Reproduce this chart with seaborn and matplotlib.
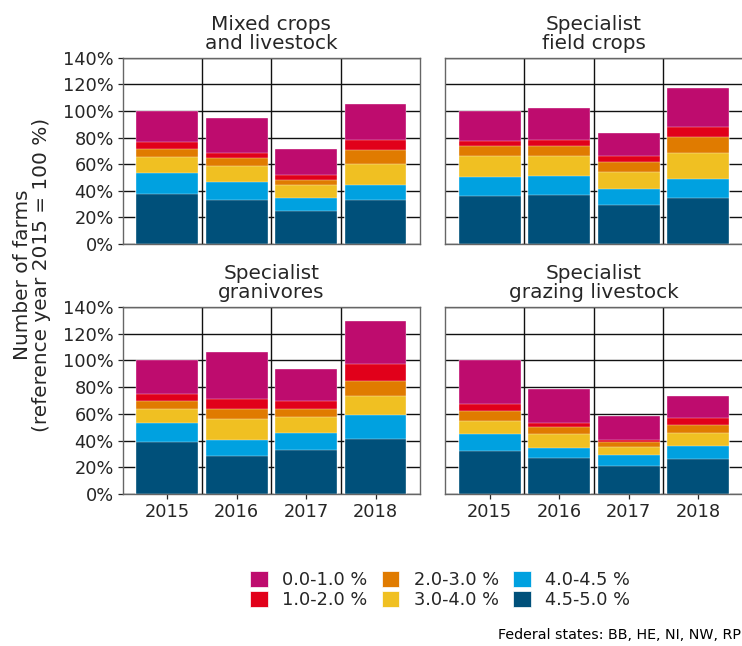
import matplotlib
matplotlib.use("Agg")
import matplotlib.pyplot as plt
import matplotlib.patches as mpatches
import numpy as np
import pandas as pd
import seaborn as sns

# Years on the x axis
years = ["2015", "2016", "2017", "2018"]

# Share classes (bottom of the stack first) and their colours
classes = ["4.5-5.0 %", "4.0-4.5 %", "3.0-4.0 %", "2.0-3.0 %", "1.0-2.0 %", "0.0-1.0 %"]
class_colors = ["#00507A", "#00A1E0", "#F0C022", "#E07B00", "#E1001A", "#BE0C6E"]

# Number of farms per class, % of reference year 2015 (rows follow `classes`)
mixed_crops = [
    [37.9, 32.9, 24.7, 32.9],
    [15.4, 13.4, 9.7, 11.4],
    [12.0, 12.0, 9.7, 16.0],
    [6.4, 6.2, 4.2, 10.7],
    [5.0, 4.2, 3.8, 7.0],
    [23.3, 25.9, 19.4, 27.4],
]
field_crops = [
    [36.1, 36.6, 29.4, 34.4],
    [14.5, 14.7, 11.9, 14.2],
    [15.2, 14.7, 12.7, 20.1],
    [7.7, 7.7, 7.8, 12.0],
    [3.7, 4.8, 4.2, 7.5],
    [22.8, 23.9, 17.4, 29.1],
]
granivores = [
    [38.6, 28.1, 32.9, 41.3],
    [14.2, 12.7, 12.7, 17.5],
    [11.2, 15.2, 11.9, 14.2],
    [5.5, 7.3, 6.5, 11.9],
    [5.0, 7.7, 5.5, 12.2],
    [25.5, 35.6, 23.9, 32.2],
]
grazing = [
    [32.1, 26.6, 20.9, 25.9],
    [13.0, 8.0, 8.0, 10.0],
    [9.7, 10.5, 6.2, 9.9],
    [7.0, 5.0, 3.5, 6.0],
    [5.7, 3.2, 2.2, 5.2],
    [32.5, 25.4, 17.7, 16.7],
]

panel_titles = ["Mixed crops\nand livestock", "Specialist\nfield crops",
                "Specialist\ngranivores", "Specialist\ngrazing livestock"]
panel_data = [mixed_crops, field_crops, granivores, grazing]

y_ticks = [0, 20, 40, 60, 80, 100, 120, 140]
y_tick_labels = ["0%", "20%", "40%", "60%", "80%", "100%", "120%", "140%"]

TEXT = "#262626"
GRID = "#111111"
BORDER = "#666666"

sns.set_style("white")
plt.rcParams["font.family"] = ["DejaVu Sans"]

W, H = 742, 646
fig = plt.figure(figsize=(W / 100, H / 100), dpi=100)

# panel boxes in pixel coordinates: (left, top, right, bottom)
boxes = [
    (122.7, 57.7, 420.0, 244.0),
    (445.3, 57.7, 742.6, 244.0),
    (122.7, 307.0, 420.0, 494.0),
    (445.3, 307.0, 742.6, 494.0),
]

for idx, (title, data, box) in enumerate(zip(panel_titles, panel_data, boxes)):
    l, t, r, b = box
    ax = fig.add_axes([l / W, 1 - b / H, (r - l) / W, (b - t) / H])
    ax.set_axisbelow(True)

    # long-form table with cumulative heights per class
    rows = []
    cum = np.zeros(len(years))
    for cls, vals in zip(classes, data):
        cum = cum + np.array(vals)
        for y, c in zip(years, cum):
            rows.append({"year": y, "class": cls, "cum": c})
    df = pd.DataFrame(rows)

    # draw from the top of the stack down so lower segments overlay
    for cls, col in reversed(list(zip(classes, class_colors))):
        sub = df[df["class"] == cls]
        sns.barplot(data=sub, x="year", y="cum", order=years, color=col,
                    saturation=1, width=0.89, edgecolor="white", linewidth=0.25,
                    errorbar=None, ax=ax, zorder=2)

    ax.set_xlim(-0.64, 3.64)
    ax.set_ylim(0, 140)
    ax.set_xlabel("")
    ax.set_ylabel("")

    # grid: horizontal at major y ticks, vertical between the bars
    for yv in y_ticks:
        ax.axhline(yv, color=GRID, lw=1.0, zorder=0.5)
    for xv in [0.5, 1.5, 2.5]:
        ax.axvline(xv, color=GRID, lw=1.0, zorder=0.5)

    for sp in ax.spines.values():
        sp.set_visible(True)
        sp.set_color(BORDER)
        sp.set_linewidth(1.0)
        sp.set_zorder(3)

    ax.set_yticks(y_ticks)
    if idx % 2 == 0:
        ax.set_yticklabels(y_tick_labels)
        ax.tick_params(axis="y", left=True, length=3.5, width=0.9, color=TEXT,
                       labelsize=12.8, labelcolor=TEXT, pad=3)
    else:
        ax.tick_params(axis="y", left=False, labelleft=False)

    ax.set_xticks(range(len(years)))
    if idx >= 2:
        ax.set_xticklabels(years)
        ax.tick_params(axis="x", bottom=True, length=3.5, width=0.9, color=TEXT,
                       labelsize=12.8, labelcolor=TEXT, pad=3)
    else:
        ax.tick_params(axis="x", bottom=False, labelbottom=False)

    ax.set_title(title, fontsize=14.4, color=TEXT, pad=6.5, linespacing=1.0)

fig.text(32 / W, 1 - 275 / H, "Number of farms\n(reference year 2015 = 100 %)",
         rotation=90, ha="center", va="center", fontsize=14.4, color=TEXT,
         multialignment="center", linespacing=1.05)

# legend in column-major order, three columns
order = [5, 4, 3, 2, 1, 0]
handles = [mpatches.Patch(facecolor=class_colors[i], edgecolor="white", linewidth=0.5)
           for i in order]
labels = [classes[i] for i in order]
fig.legend(handles, labels, ncol=3, loc="center",
           bbox_to_anchor=(440 / W, 1 - 590 / H), frameon=False,
           fontsize=12.8, handlelength=1.0, handleheight=1.0, handletextpad=0.8,
           columnspacing=0.8, labelspacing=0.1, labelcolor=TEXT)

fig.text(741 / W, 1 - 635 / H, "Federal states: BB, HE, NI, NW, RP",
         ha="right", va="center", fontsize=10.3, color="black")

fig.savefig("out.png", dpi=100, facecolor="white")
